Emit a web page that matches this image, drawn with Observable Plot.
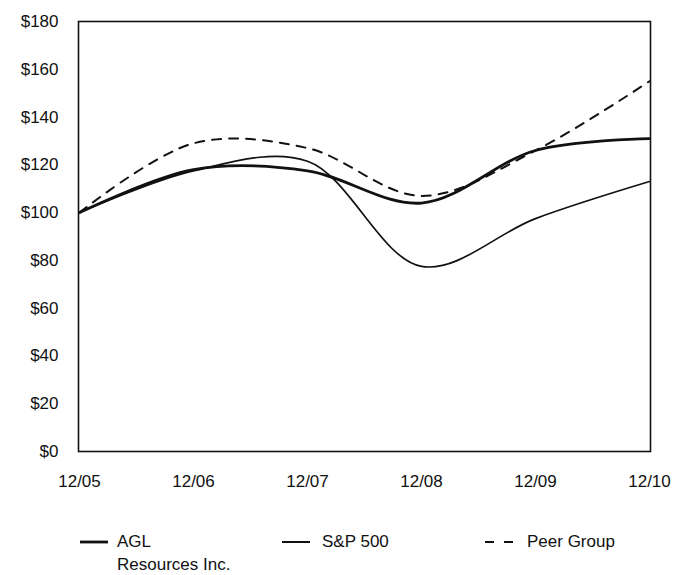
<!DOCTYPE html>
<html>
<head>
<meta charset="utf-8">
<script src="https://cdn.jsdelivr.net/npm/d3@7"></script>
<script src="https://cdn.jsdelivr.net/npm/@observablehq/plot@0.6"></script>
<style>
  body { margin: 0; background: #fff; font-family: "Liberation Sans", Arial, sans-serif; }
  #wrap { position: relative; width: 679px; height: 575px; overflow: hidden; }
  .leg { position: absolute; font-size: 17px; color: #111; display: flex; align-items: center; height: 16px; line-height: 16px; }
  .leg svg { display: block; }
</style>
</head>
<body>
<div id="wrap">
  <div id="chart"></div>
  <div class="leg" style="left:80px; top:534px;"><svg width="37" height="6"><line x1="0" x2="28" y1="3" y2="3" stroke="#111" stroke-width="2.8"/></svg>AGL</div>
  <div class="leg" style="left:117px; top:557px;">Resources Inc.</div>
  <div class="leg" style="left:282px; top:534px;"><svg width="40" height="6"><line x1="0" x2="28" y1="3" y2="3" stroke="#111" stroke-width="2"/></svg>S&amp;P 500</div>
  <div class="leg" style="left:485px; top:534px;"><svg width="42" height="6"><line x1="0" x2="28" y1="3" y2="3" stroke="#111" stroke-width="2" stroke-dasharray="9,10"/></svg>Peer Group</div>
</div>
<script>
const periods = ["12/05", "12/06", "12/07", "12/08", "12/09", "12/10"];
const agl = [100, 118, 117.5, 104, 126, 131];
const sp500 = [100, 117.5, 121.5, 77.5, 97.5, 113];
const peer = [100, 129, 127, 107, 126, 155];
const yTicks = [0, 20, 40, 60, 80, 100, 120, 140, 160, 180];

const rows = (vals, series) => vals.map((v, i) => ({period: periods[i], value: v, series}));
const aglData = rows(agl, "AGL Resources Inc.");
const spData = rows(sp500, "S&P 500");
const peerData = rows(peer, "Peer Group");

const chart = Plot.plot({
  width: 679,
  height: 495,
  marginLeft: 78,
  marginRight: 29,
  marginTop: 21,
  marginBottom: 44,
  style: {fontFamily: "Liberation Sans, Arial, sans-serif", fontSize: "17px", color: "#111", background: "#fff", overflow: "visible"},
  x: {type: "point", domain: periods, padding: 0, label: null, tickSize: 0, tickPadding: 23},
  y: {domain: [0, 180], ticks: yTicks, tickFormat: d => "$" + d, label: null, tickSize: 0, tickPadding: 20},
  marks: [
    Plot.frame({stroke: "#111", strokeWidth: 1.6}),
    Plot.line(peerData, {x: "period", y: "value", curve: "catmull-rom", stroke: "#111", strokeWidth: 2, strokeDasharray: "9,8"}),
    Plot.line(spData, {x: "period", y: "value", curve: "catmull-rom", stroke: "#111", strokeWidth: 1.7}),
    Plot.line(aglData, {x: "period", y: "value", curve: "catmull-rom", stroke: "#111", strokeWidth: 2.8})
  ]
});
document.getElementById("chart").appendChild(chart);
</script>
</body>
</html>
